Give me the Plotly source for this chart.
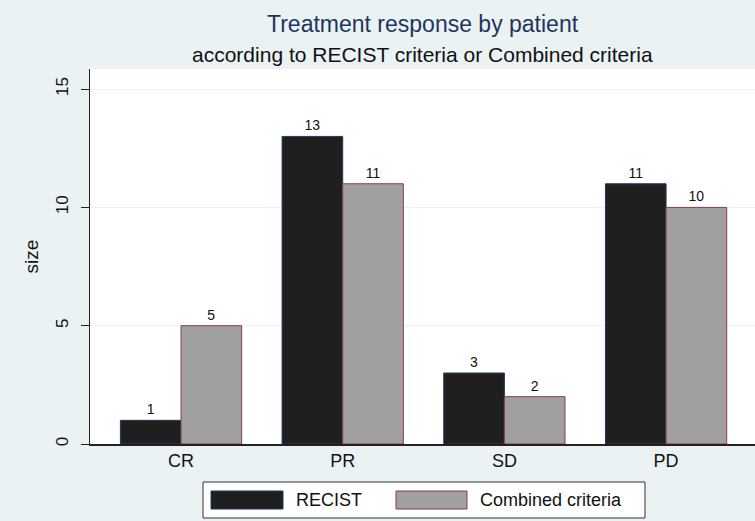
import plotly.graph_objects as go

categories = ["CR", "PR", "SD", "PD"]
recist = [1, 13, 3, 11]
combined = [5, 11, 2, 10]
series_names = ["RECIST", "Combined criteria"]
y_ticks = [0, 5, 10, 15]

W, H = 755, 521
L, R, T, B = 90, 0, 69, 77
pw, ph = W - L - R, H - T - B

def px(x):
    return (x - L) / pw

def py(y):
    return (H - B - y) / ph

bg = "#EAF2F3"
c1, e1 = "#1F1F1F", "#1C3A5E"
c2, e2 = "#A0A0A0", "#8E3A45"
font = "Liberation Sans, Arial, sans-serif"

fig = go.Figure()
fig.add_trace(go.Bar(x=categories, y=recist, name=series_names[0],
                     marker=dict(color=c1, line=dict(color=e1, width=1)),
                     text=recist, textposition="outside", cliponaxis=False,
                     textfont=dict(size=14, color="#111", family=font)))
fig.add_trace(go.Bar(x=categories, y=combined, name=series_names[1],
                     marker=dict(color=c2, line=dict(color=e2, width=1)),
                     text=combined, textposition="outside", cliponaxis=False,
                     textfont=dict(size=14, color="#111", family=font)))

shapes = []
annotations = []
# custom legend
shapes.append(dict(type="rect", xref="paper", yref="paper",
                   x0=px(203), x1=px(645), y0=py(518), y1=py(482),
                   line=dict(color="#333", width=1), fillcolor="white", layer="above"))
shapes.append(dict(type="rect", xref="paper", yref="paper",
                   x0=px(211), x1=px(283), y0=py(509), y1=py(491),
                   line=dict(color=e1, width=1), fillcolor=c1, layer="above"))
shapes.append(dict(type="rect", xref="paper", yref="paper",
                   x0=px(396), x1=px(467), y0=py(509), y1=py(491),
                   line=dict(color=e2, width=1), fillcolor=c2, layer="above"))
annotations.append(dict(xref="paper", yref="paper", x=px(294), y=py(500),
                        text=series_names[0], showarrow=False, xanchor="left", yanchor="middle",
                        font=dict(size=18, color="#111", family=font)))
annotations.append(dict(xref="paper", yref="paper", x=px(478), y=py(500),
                        text=series_names[1], showarrow=False, xanchor="left", yanchor="middle",
                        font=dict(size=18, color="#111", family=font)))
# titles
annotations.append(dict(xref="paper", yref="paper", x=0.5, y=py(24),
                        text="Treatment response by patient", showarrow=False,
                        xanchor="center", yanchor="middle",
                        font=dict(size=23, color="#1E3560", family=font)))
annotations.append(dict(xref="paper", yref="paper", x=0.5, y=py(55),
                        text="according to RECIST criteria or Combined criteria", showarrow=False,
                        xanchor="center", yanchor="middle",
                        font=dict(size=21, color="#111", family=font)))

fig.update_layout(
    width=W, height=H,
    margin=dict(l=L, r=R, t=T, b=B),
    paper_bgcolor=bg, plot_bgcolor="white",
    barmode="group", bargap=0.25, bargroupgap=0,
    showlegend=False,
    shapes=shapes, annotations=annotations,
    font=dict(family=font, color="#111"),
)
fig.update_xaxes(range=[-0.563, 3.55], showline=True, linecolor="#222", linewidth=1.5,
                 ticks="", tickfont=dict(size=18), showgrid=False, zeroline=False)
fig.update_yaxes(range=[0, 15.85], tickvals=y_ticks, tickangle=-90,
                 ticks="outside", ticklen=8, tickcolor="#222",
                 ticklabelstandoff=6,
                 showline=True, linecolor="#222", linewidth=1,
                 gridcolor=bg, gridwidth=1, zeroline=False,
                 tickfont=dict(size=17),
                 title=dict(text="size", font=dict(size=19), standoff=9))

fig.write_html("out.html", config={"displayModeBar": False},
               post_script="document.body.style.margin='0';document.body.style.overflow='hidden';")
